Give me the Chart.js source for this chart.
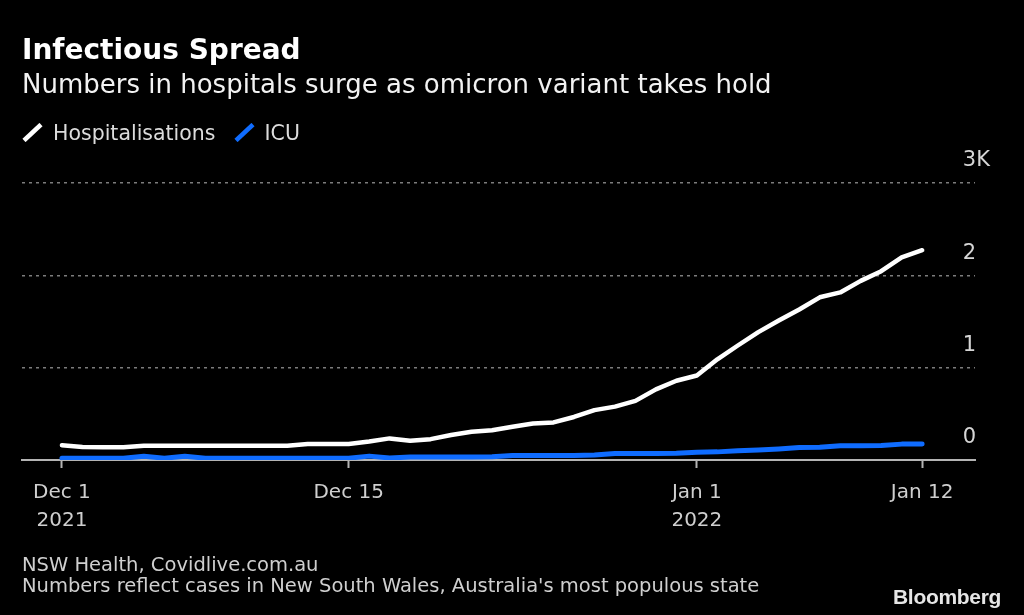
<!DOCTYPE html>
<html>
<head>
<meta charset="utf-8">
<script src="https://cdn.jsdelivr.net/npm/chart.js@4.4.0/dist/chart.umd.min.js"></script>
<style>
  body { margin: 0; background: #000; width: 1024px; height: 615px; overflow: hidden; position: relative; font-family: "DejaVu Sans", sans-serif; }
  #chart { position: absolute; left: 0; top: 0; }
  .txt { position: absolute; left: 22px; white-space: nowrap; line-height: 1; }
  #title { top: 36px; font-size: 28px; font-weight: bold; color: #fff; }
  #subtitle { top: 71px; font-size: 26px; color: #f2f2f2; }
  #legend { position: absolute; left: 22px; top: 123px; display: flex; align-items: flex-start; font-size: 20.5px; line-height: 1; color: #dcdcdc; }
  #legend .item { display: flex; align-items: flex-start; margin-right: 18px; }
  #legend svg { margin-right: 10px; }
  .foot { font-size: 19.5px; color: #cfcfcf; }
  #source { top: 555px; }
  #note { top: 576px; }
  #logo { position: absolute; left: 893px; top: 586px; font-family: "Liberation Sans", Arial, sans-serif; font-weight: bold; font-size: 21px; line-height: 1; color: #e6e6e6; letter-spacing: -0.3px; }
</style>
</head>
<body>
<canvas id="chart" width="1024" height="615"></canvas>
<div id="title" class="txt">Infectious Spread</div>
<div id="subtitle" class="txt">Numbers in hospitals surge as omicron variant takes hold</div>
<div id="legend"></div>
<div id="source" class="txt foot">NSW Health, Covidlive.com.au</div>
<div id="note" class="txt foot">Numbers reflect cases in New South Wales, Australia's most populous state</div>
<div id="logo">Bloomberg</div>

<script>
// dates shown, one per day (Dec 1 2021 -> Jan 12 2022)
const dates = [
  "Dec 1", "Dec 2", "Dec 3", "Dec 4", "Dec 5", "Dec 6", "Dec 7", "Dec 8", "Dec 9", "Dec 10",
  "Dec 11", "Dec 12", "Dec 13", "Dec 14", "Dec 15", "Dec 16", "Dec 17", "Dec 18", "Dec 19", "Dec 20",
  "Dec 21", "Dec 22", "Dec 23", "Dec 24", "Dec 25", "Dec 26", "Dec 27", "Dec 28", "Dec 29", "Dec 30",
  "Dec 31", "Jan 1", "Jan 2", "Jan 3", "Jan 4", "Jan 5", "Jan 6", "Jan 7", "Jan 8", "Jan 9",
  "Jan 10", "Jan 11", "Jan 12"
];

// people in hospital
const hospitalisations = [
  160, 140, 138, 138, 155, 155, 155, 155, 155, 155,
  155, 155, 174, 174, 174, 200, 234, 208, 226, 270,
  306, 322, 360, 395, 407, 466, 540, 578, 640, 765,
  858, 915, 1090, 1240, 1385, 1510, 1630, 1762, 1815, 1940,
  2045, 2195, 2272
];

// people in intensive care
const icu = [
  20, 20, 20, 20, 40, 20, 40, 20, 20, 20,
  20, 20, 20, 20, 20, 42, 22, 32, 32, 32,
  32, 34, 50, 50, 50, 50, 55, 70, 70, 70,
  72, 85, 88, 100, 108, 120, 135, 138, 155, 155,
  156, 172, 174
];

const seriesNames = ["Hospitalisations", "ICU"];
const seriesColors = ["#ffffff", "#0f6cff"];

const xTicks = ["Dec 1", "Dec 15", "Jan 1", "Jan 12"];
const xYears = ["2021", "", "2022", ""];
const yTickValues = [0, 1000, 2000, 3000];
const yTickLabels = ["0", "1", "2", "3K"];

const tickDays = xTicks.map(t => dates.indexOf(t));

// legend (slash + name)
const legend = document.getElementById("legend");
seriesNames.forEach((name, k) => {
  const item = document.createElement("div");
  item.className = "item";
  item.innerHTML = '<svg width="21" height="19"><line x1="2" y1="17.5" x2="19" y2="1.5" stroke="' +
    seriesColors[k] + '" stroke-width="4.5"/></svg><span>' + name + '</span>';
  legend.appendChild(item);
});

const ctx = document.getElementById("chart").getContext("2d");
const chart = new Chart(ctx, {
  type: "line",
  data: {
    datasets: [{
      label: seriesNames[0],
      data: hospitalisations.map((v, i) => ({ x: i, y: v })),
      borderColor: seriesColors[0],
      borderWidth: 4.5,
      pointRadius: 0,
      tension: 0,
      borderCapStyle: "round",
      borderJoinStyle: "round",
    }, {
      label: seriesNames[1],
      data: icu.map((v, i) => ({ x: i, y: v })),
      borderColor: seriesColors[1],
      borderWidth: 5,
      pointRadius: 0,
      tension: 0,
      borderCapStyle: "round",
      borderJoinStyle: "round",
    }],
  },
  options: {
    responsive: false,
    animation: false,
    devicePixelRatio: 1,
    layout: { padding: { left: 22, right: 0, top: 183, bottom: 75 } },
    plugins: {
      legend: { display: false },
      tooltip: { enabled: false },
    },
    scales: {
      x: {
        type: "linear",
        min: -1.95,
        max: 44.58,
        afterBuildTicks: s => { s.ticks = tickDays.map(v => ({ value: v })); },
        afterFit: s => { s.height = 80; },
        border: { display: true, color: "#b4b4b4", width: 2 },
        grid: { drawOnChartArea: false, drawTicks: true, tickLength: 8, tickColor: "#b4b4b4", tickWidth: 2 },
        ticks: {
          autoSkip: false,
          maxRotation: 0,
          padding: 11,
          color: "#cfcfcf",
          font: { family: "DejaVu Sans", size: 20, lineHeight: 1.4 },
          callback: (v, i) => xYears[i] ? [xTicks[i], xYears[i]] : xTicks[i],
        },
      },
      y: {
        position: "right",
        min: 0,
        max: 3000,
        afterBuildTicks: s => { s.ticks = yTickValues.map(v => ({ value: v })); },
        afterFit: s => { s.width = 49; },
        border: { display: false, dash: [3, 4] },
        grid: {
          drawTicks: false,
          lineWidth: 1.5,
          color: c => c.tick && c.tick.value === 0 ? "rgba(0,0,0,0)" : "#7c7c7c",
        },
        ticks: {
          mirror: true,
          crossAlign: "far",
          padding: 15,
          labelOffset: -22,
          color: "#d6d6d6",
          font: { family: "DejaVu Sans", size: 21 },
          callback: (v, i) => yTickLabels[i],
        },
      },
    },
  },
});
</script>
</body>
</html>
